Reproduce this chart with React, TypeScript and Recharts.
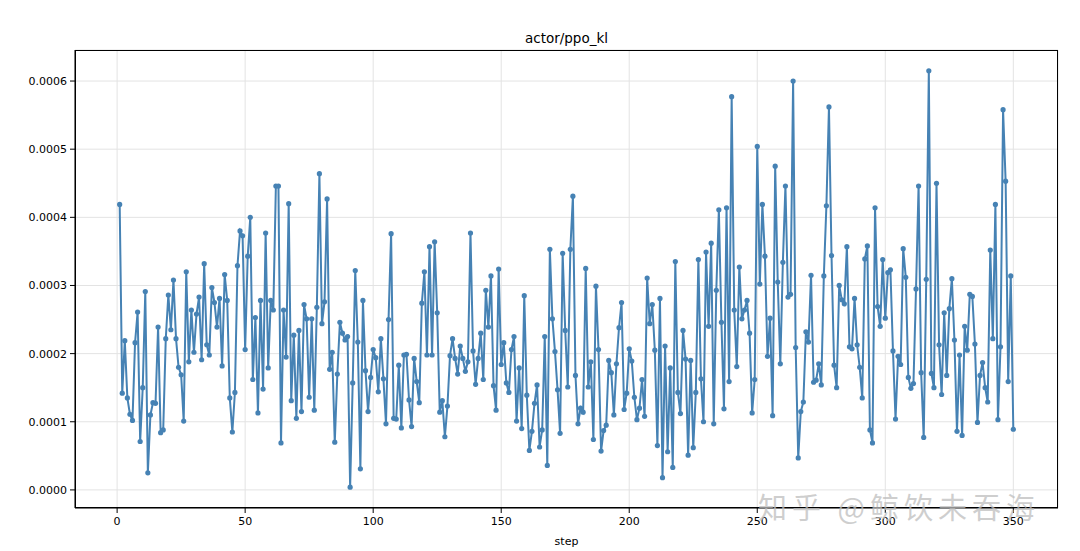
import { LineChart, Line, XAxis, YAxis, CartesianGrid } from 'recharts';

// actor/ppo_kl per step
const PPO_KL = [
  4.19e-4, 1.42e-4, 2.19e-4, 1.35e-4, 1.11e-4, 1.02e-4, 2.16e-4, 2.61e-4, 0.71e-4, 1.5e-4,
  2.91e-4, 0.25e-4, 1.1e-4, 1.28e-4, 1.27e-4, 2.39e-4, 0.84e-4, 0.88e-4, 2.22e-4, 2.86e-4,
  2.35e-4, 3.08e-4, 2.22e-4, 1.8e-4, 1.69e-4, 1.01e-4, 3.2e-4, 1.88e-4, 2.64e-4, 2.02e-4,
  2.58e-4, 2.83e-4, 1.91e-4, 3.32e-4, 2.13e-4, 1.98e-4, 2.97e-4, 2.75e-4, 2.39e-4, 2.81e-4,
  1.82e-4, 3.16e-4, 2.78e-4, 1.35e-4, 0.85e-4, 1.43e-4, 3.29e-4, 3.8e-4, 3.73e-4, 2.06e-4,
  3.43e-4, 4.0e-4, 1.62e-4, 2.53e-4, 1.13e-4, 2.78e-4, 1.48e-4, 3.77e-4, 1.79e-4, 2.78e-4,
  2.64e-4, 4.46e-4, 4.46e-4, 0.69e-4, 2.64e-4, 1.95e-4, 4.2e-4, 1.31e-4, 2.27e-4, 1.05e-4,
  2.34e-4, 1.15e-4, 2.72e-4, 2.51e-4, 1.36e-4, 2.51e-4, 1.17e-4, 2.68e-4, 4.64e-4, 2.44e-4,
  2.76e-4, 4.27e-4, 1.77e-4, 2.02e-4, 0.7e-4, 1.7e-4, 2.46e-4, 2.3e-4, 2.2e-4, 2.25e-4,
  0.04e-4, 1.57e-4, 3.22e-4, 2.17e-4, 0.31e-4, 2.78e-4, 1.75e-4, 1.15e-4, 1.65e-4, 2.06e-4,
  1.94e-4, 1.44e-4, 2.22e-4, 1.63e-4, 0.97e-4, 2.5e-4, 3.76e-4, 1.05e-4, 1.04e-4, 1.83e-4,
  0.91e-4, 1.98e-4, 1.99e-4, 1.32e-4, 0.93e-4, 1.93e-4, 1.59e-4, 1.28e-4, 2.74e-4, 3.2e-4,
  1.98e-4, 3.57e-4, 1.98e-4, 3.64e-4, 2.6e-4, 1.14e-4, 1.31e-4, 0.78e-4, 1.23e-4, 1.97e-4,
  2.22e-4, 1.93e-4, 1.7e-4, 2.11e-4, 1.93e-4, 1.74e-4, 1.88e-4, 3.77e-4, 2.04e-4, 1.55e-4,
  1.93e-4, 2.3e-4, 1.62e-4, 2.93e-4, 2.39e-4, 3.14e-4, 1.53e-4, 1.17e-4, 3.24e-4, 1.84e-4,
  2.16e-4, 1.57e-4, 1.43e-4, 2.06e-4, 2.25e-4, 1.01e-4, 1.79e-4, 0.9e-4, 2.85e-4, 1.39e-4,
  0.58e-4, 0.86e-4, 1.27e-4, 1.54e-4, 0.63e-4, 0.88e-4, 2.25e-4, 0.36e-4, 3.53e-4, 2.51e-4,
  2.03e-4, 1.47e-4, 0.83e-4, 3.47e-4, 2.34e-4, 1.51e-4, 3.53e-4, 4.31e-4, 1.68e-4, 0.97e-4,
  1.2e-4, 1.14e-4, 3.25e-4, 1.51e-4, 1.88e-4, 0.74e-4, 2.99e-4, 2.06e-4, 0.57e-4, 0.87e-4,
  0.95e-4, 1.9e-4, 1.72e-4, 1.1e-4, 1.85e-4, 2.38e-4, 2.75e-4, 1.18e-4, 1.42e-4, 2.07e-4,
  1.89e-4, 1.36e-4, 1.03e-4, 1.2e-4, 1.62e-4, 1.08e-4, 3.11e-4, 2.44e-4, 2.72e-4, 2.05e-4,
  0.65e-4, 2.81e-4, 0.18e-4, 2.11e-4, 0.56e-4, 1.79e-4, 0.33e-4, 3.35e-4, 1.43e-4, 1.12e-4,
  2.34e-4, 1.92e-4, 0.51e-4, 1.9e-4, 0.62e-4, 1.43e-4, 3.38e-4, 1.63e-4, 1.0e-4, 3.49e-4,
  2.4e-4, 3.62e-4, 0.97e-4, 2.93e-4, 4.11e-4, 2.46e-4, 1.19e-4, 4.14e-4, 1.59e-4, 5.77e-4,
  2.64e-4, 1.81e-4, 3.27e-4, 2.51e-4, 2.64e-4, 2.78e-4, 2.3e-4, 1.13e-4, 1.62e-4, 5.04e-4,
  3.02e-4, 4.19e-4, 3.43e-4, 1.96e-4, 2.52e-4, 1.09e-4, 4.75e-4, 3.05e-4, 1.85e-4, 3.34e-4,
  4.46e-4, 2.83e-4, 2.87e-4, 6.0e-4, 2.09e-4, 0.47e-4, 1.15e-4, 1.29e-4, 2.32e-4, 2.17e-4,
  3.15e-4, 1.58e-4, 1.61e-4, 1.85e-4, 1.54e-4, 3.14e-4, 4.17e-4, 5.62e-4, 3.44e-4, 1.83e-4,
  1.5e-4, 3.0e-4, 2.79e-4, 2.73e-4, 3.57e-4, 2.1e-4, 2.07e-4, 2.81e-4, 2.13e-4, 1.8e-4,
  1.35e-4, 3.39e-4, 3.58e-4, 0.88e-4, 0.69e-4, 4.14e-4, 2.69e-4, 2.4e-4, 3.38e-4, 2.52e-4,
  3.19e-4, 3.23e-4, 2.04e-4, 1.04e-4, 1.96e-4, 1.84e-4, 3.54e-4, 3.12e-4, 1.65e-4, 1.49e-4,
  1.56e-4, 2.95e-4, 4.46e-4, 1.72e-4, 0.77e-4, 3.09e-4, 6.15e-4, 1.71e-4, 1.5e-4, 4.5e-4,
  2.13e-4, 1.4e-4, 2.6e-4, 1.68e-4, 2.66e-4, 3.1e-4, 2.2e-4, 0.86e-4, 1.98e-4, 0.8e-4,
  2.4e-4, 2.05e-4, 2.87e-4, 2.84e-4, 2.14e-4, 0.99e-4, 1.68e-4, 1.87e-4, 1.5e-4, 1.29e-4,
  3.52e-4, 2.22e-4, 4.19e-4, 1.03e-4, 2.1e-4, 5.58e-4, 4.53e-4, 1.59e-4, 3.14e-4, 0.89e-4,
];
const STEPS = PPO_KL.map((_, i) => i + 1);

const X_TICKS = [0, 50, 100, 150, 200, 250, 300, 350];
const Y_TICKS = [0, 0.0001, 0.0002, 0.0003, 0.0004, 0.0005, 0.0006];

const TITLE = 'actor/ppo_kl';
const X_LABEL = 'step';
const WATERMARK = '知乎 @鲸饮未吞海';

const WIDTH = 1080;
const HEIGHT = 551;
const MARGIN = { top: 50, right: 22, bottom: 43, left: 75 };
const FONT = '"DejaVu Sans", sans-serif';
const LINE_COLOR = '#4682b4';

// matplotlib style 5% padding around the data
const pad = (lo: number, hi: number): [number, number] => {
  const d = (hi - lo) * 0.05;
  return [lo - d, hi + d];
};

const data = STEPS.map((step, i) => ({ step, kl: PPO_KL[i] }));
const xDomain = pad(Math.min(...STEPS), Math.max(...STEPS));
const yDomain = pad(Math.min(...PPO_KL), Math.max(...PPO_KL));

export default function App() {
  const plotW = WIDTH - MARGIN.left - MARGIN.right;
  const plotH = HEIGHT - MARGIN.top - MARGIN.bottom;

  return (
    <div
      style={{
        position: 'absolute',
        left: 0,
        top: 0,
        width: WIDTH,
        height: HEIGHT,
        background: '#fff',
        fontFamily: FONT,
      }}
    >
      <div
        style={{
          position: 'absolute',
          left: MARGIN.left,
          width: plotW,
          top: 29,
          lineHeight: '18px',
          fontSize: 13.5,
          textAlign: 'center',
          color: '#000',
        }}
      >
        {TITLE}
      </div>

      <LineChart
        width={WIDTH}
        height={HEIGHT}
        data={data}
        margin={{ top: MARGIN.top, right: MARGIN.right, bottom: 0, left: 0 }}
      >
        <CartesianGrid stroke="#e3e3e3" strokeWidth={1} />
        <XAxis
          dataKey="step"
          type="number"
          domain={xDomain}
          ticks={X_TICKS}
          allowDataOverflow
          height={MARGIN.bottom}
          tickSize={5}
          tickMargin={4}
          stroke="#000"
          tick={{ fill: '#000', fontSize: 11, fontFamily: FONT }}
          label={{ value: X_LABEL, position: 'insideBottom', offset: 6, fill: '#000', fontSize: 11, fontFamily: FONT }}
        />
        <YAxis
          type="number"
          domain={yDomain}
          ticks={Y_TICKS}
          allowDataOverflow
          width={MARGIN.left}
          tickSize={5}
          tickMargin={3}
          stroke="#000"
          tick={{ fill: '#000', fontSize: 11, fontFamily: FONT }}
          tickFormatter={(v: number) => v.toFixed(4)}
        />
        <Line
          type="linear"
          dataKey="kl"
          stroke={LINE_COLOR}
          strokeWidth={2}
          dot={{ r: 2.6, fill: LINE_COLOR, stroke: LINE_COLOR, strokeWidth: 0 }}
          isAnimationActive={false}
        />
      </LineChart>

      {/* axes frame */}
      <div
        style={{
          position: 'absolute',
          left: MARGIN.left,
          top: MARGIN.top,
          width: plotW,
          height: plotH,
          border: '1px solid #000',
          boxSizing: 'border-box',
          pointerEvents: 'none',
        }}
      />

      <div
        style={{
          position: 'absolute',
          left: 758,
          top: 488,
          lineHeight: '36px',
          fontSize: 29,
          letterSpacing: 5,
          whiteSpace: 'nowrap',
          fontFamily: '"Noto Sans CJK SC", sans-serif',
          color: 'rgba(190,190,190,0.75)',
          pointerEvents: 'none',
        }}
      >
        {WATERMARK}
      </div>
    </div>
  );
}
